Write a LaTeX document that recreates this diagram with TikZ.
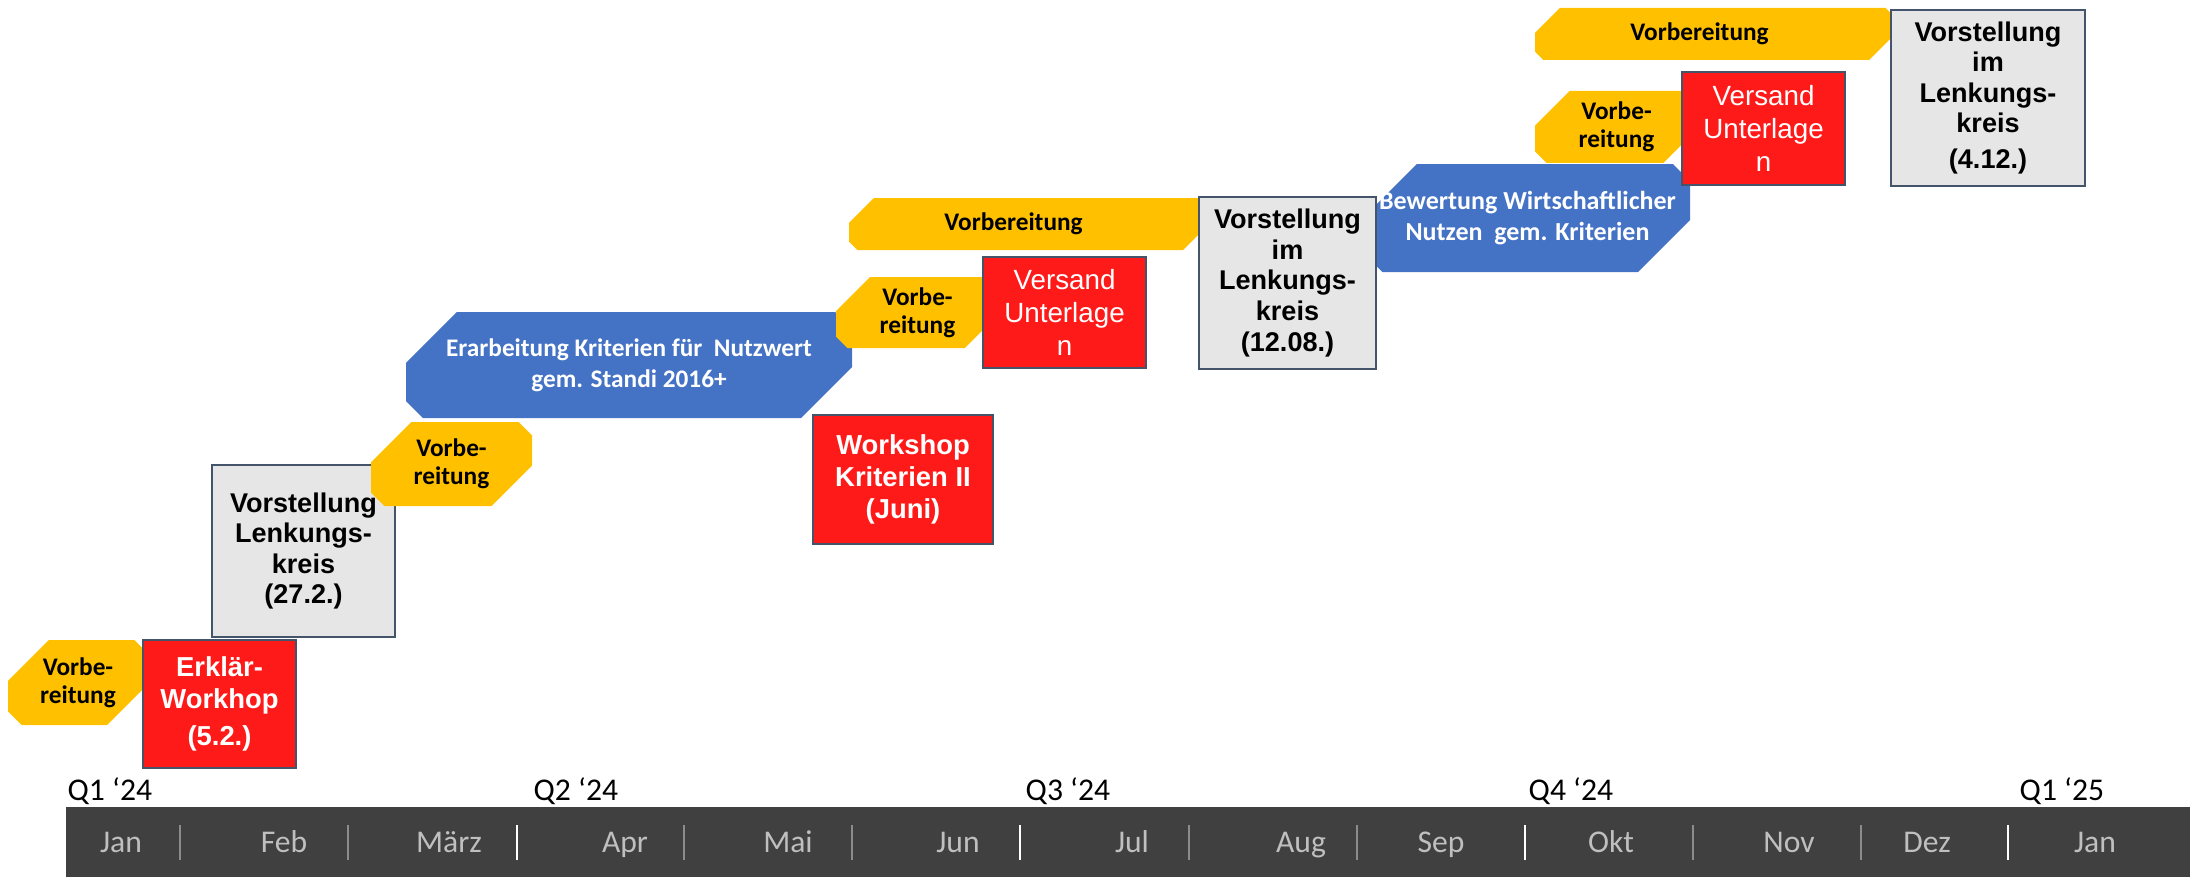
\documentclass[tikz,border=0pt]{standalone}
\usepackage{fontspec}
\setmainfont{Liberation Sans}
\newfontfamily\carlito{Carlito}
\usetikzlibrary{calc}

\definecolor{prepyellow}{HTML}{FFC000}
\definecolor{taskblue}{HTML}{4472C4}
\definecolor{eventred}{HTML}{FF1A1A}
\definecolor{meetgrey}{HTML}{E6E6E6}
\definecolor{edgeslate}{HTML}{44546A}
\definecolor{bargrey}{HTML}{404040}
\definecolor{monthtext}{HTML}{BFBFBF}
\definecolor{septext}{HTML}{8C8C8C}

\tikzset{
  snip/.style={inner sep=0pt, align=center, path picture={
      \fill[#1] let \p1=(path picture bounding box.south west),
                    \p2=(path picture bounding box.north east),
                    \n1={0.48*(\y2-\y1)}, \n2={0.16*(\y2-\y1)} in
        (\x1+\n1,\y2) -- (\x2-\n2,\y2) -- (\x2,\y2-\n2) -- (\x2,\y1+\n1)
        -- (\x2-\n1,\y1) -- (\x1+\n2,\y1) -- (\x1,\y1+\n2) -- (\x1,\y2-\n1) -- cycle;}},
  prep/.style={snip=prepyellow, font=\carlito\bfseries\fontsize{7.2}{8}\selectfont},
  task/.style={snip=taskblue, text=white, font=\carlito\bfseries\fontsize{7.2}{8.7}\selectfont},
  event/.style={fill=eventred, draw=edgeslate, line width=0.6pt, text=white, align=center,
    inner sep=0pt, font=\bfseries\fontsize{7.8}{9}\selectfont},
  versand/.style={event, font=\fontsize{7.9}{9.4}\selectfont},
  meeting/.style={fill=meetgrey, draw=edgeslate, line width=0.6pt, align=center,
    inner sep=0pt, font=\bfseries\fontsize{7.7}{8.7}\selectfont},
  month/.style={text=monthtext, font=\carlito\fontsize{9}{10}\selectfont, anchor=base},
  quarter/.style={font=\carlito\fontsize{9}{10}\selectfont, anchor=base west, inner sep=0pt},
  monthsep/.style={draw=septext, line width=0.4pt},
  quartersep/.style={draw=white, line width=0.8pt}
}

\begin{document}
\begin{tikzpicture}[x=0.1mm, y=-0.1mm]
\useasboundingbox (0,0) rectangle (2190,877);

\node[prep, minimum width=14mm, minimum height=8.5mm] (prep1) at (78,682.5) {Vorbe-\\reitung};
\node[event, minimum width=15.3mm, minimum height=12.8mm] (erklaer) at (219.5,704) {Erklär-\\Workhop\\[1.5pt](5.2.)};
\node[meeting, minimum width=18.3mm, minimum height=17.2mm] (lk1) at (303.5,551) {Vorstellung\\Lenkungs-\\kreis\\(27.2.)};
\node[prep, minimum width=16.1mm, minimum height=8.4mm] (prep2) at (451.5,464) {Vorbe-\\reitung};
\node[task, minimum width=44.6mm, minimum height=10.6mm] (krit) at (629,365) {Erarbeitung Kriterien für\ \ Nutzwert\\gem. Standi 2016+};
\node[event, minimum width=18mm, minimum height=12.9mm] (ws2) at (903,479.5) {Workshop\\Kriterien II\\(Juni)};
\node[prep, minimum width=16.3mm, minimum height=7.1mm] (prep3) at (917.5,312.5) {Vorbe-\\reitung};
\node[versand, minimum width=16.3mm, minimum height=11.1mm] (versand1) at (1064.5,312.5) {Versand\\Unterlage\\n};
\node[prep, minimum width=35.9mm, minimum height=5.2mm] (prep4) at (1028.5,224) {Vorbereitung\hspace*{3mm}};
\node[task, minimum width=32.5mm, minimum height=10.8mm, font=\carlito\bfseries\fontsize{7.4}{9}\selectfont] (bewert) at (1527.5,218) {Bewertung Wirtschaftlicher\\Nutzen\ \ gem. Kriterien};
\node[meeting, minimum width=17.7mm, minimum height=17.2mm] (lk2) at (1287.5,283) {Vorstellung\\im\\Lenkungs-\\kreis\\(12.08.)};
\node[prep, minimum width=35.9mm, minimum height=5.2mm] (prep5) at (1714.5,34) {Vorbereitung\hspace*{3mm}};
\node[prep, minimum width=16.3mm, minimum height=7.2mm] (prep6) at (1616.5,127) {Vorbe-\\reitung};
\node[versand, minimum width=16.3mm, minimum height=11.3mm] (versand2) at (1763.5,128.5) {Versand\\Unterlage\\n};
\node[meeting, minimum width=19.4mm, minimum height=17.6mm] (lk3) at (1988,98) {Vorstellung\\im\\Lenkungs-\\kreis\\[1.5pt](4.12.)};

\fill[bargrey] (66,807) rectangle (2190,877);
\foreach \x in {180,348,684,852,1189,1357,1693,1861}
  \draw[monthsep] (\x,825) -- (\x,860);
\foreach \x in {517,1020,1525,2008}
  \draw[quartersep] (\x,825) -- (\x,860);
\foreach \name/\x [count=\i] in {Jan/121,Feb/284,März/449,Apr/625,Mai/788,Jun/958,Jul/1132,Aug/1301,Sep/1441,Okt/1611,Nov/1789,Dez/1927,Jan/2095}
  \node[month] (m\i) at (\x,852) {\name};
\foreach \lab/\x [count=\i] in {Q1 ‘24/67,Q2 ‘24/533,Q3 ‘24/1025,Q4 ‘24/1528,Q1 ‘25/2019}
  \node[quarter] (q\i) at (\x,800) {\lab};
\end{tikzpicture}
\end{document}
